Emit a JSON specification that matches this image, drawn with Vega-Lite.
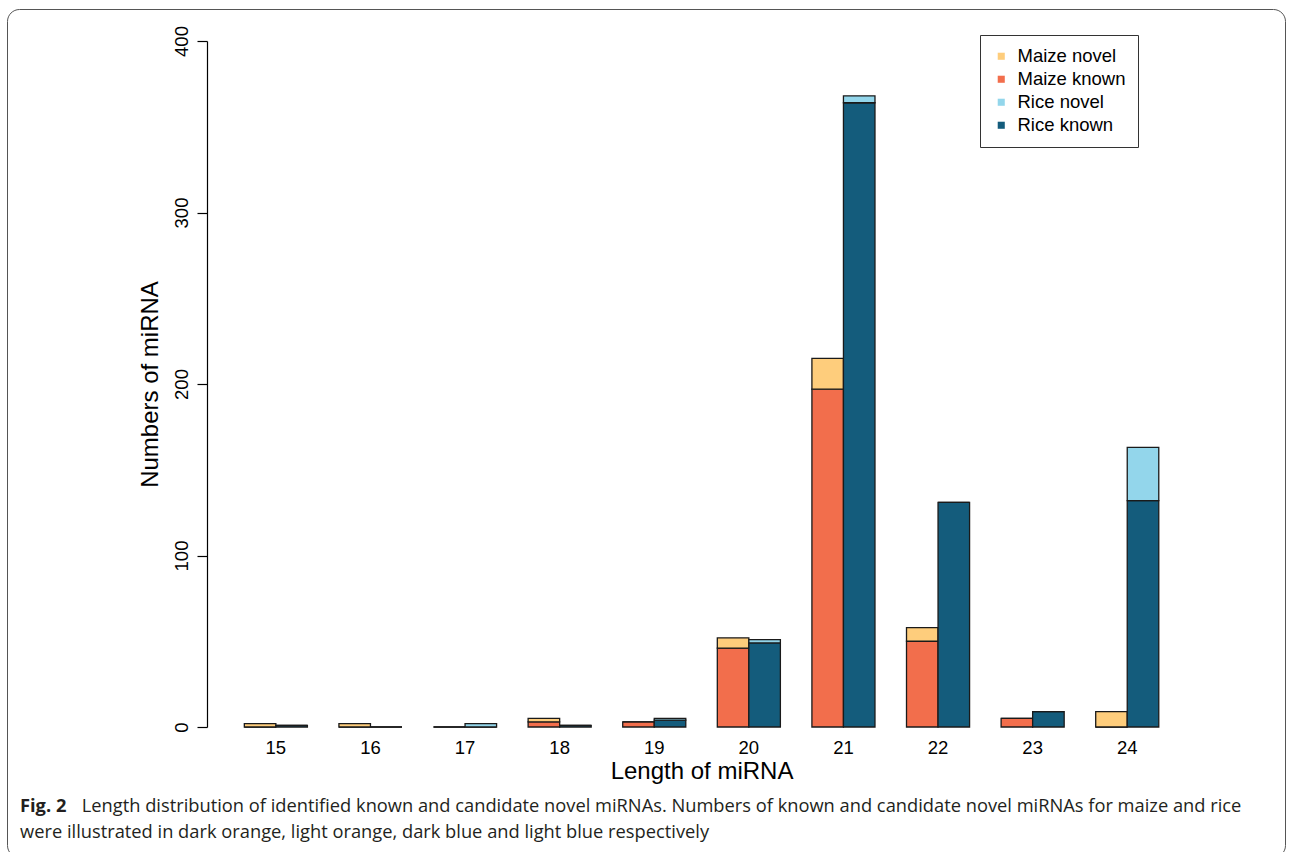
{
  "$schema": "https://vega.github.io/schema/vega-lite/v6.json",
  "autosize": {"type": "none"},
  "padding": {"left": 7, "top": 9, "right": 7, "bottom": -5},
  "width": 1278,
  "height": 848,
  "background": "white",
  "view": {"stroke": "#555555", "cornerRadius": 12, "fill": "white"},
  "title": {
    "text": "Fig. 2",
    "subtitle": [
      "\u200b\u00a0\u00a0\u00a0\u00a0\u00a0\u00a0\u00a0\u00a0\u00a0\u00a0\u00a0\u00a0\u00a0Length distribution of identified known and candidate novel miRNAs. Numbers of known and candidate novel miRNAs for maize and rice",
      "were illustrated in dark orange, light orange, dark blue and light blue respectively"
    ],
    "orient": "bottom",
    "anchor": "start",
    "frame": "group",
    "offset": -59,
    "dx": 13,
    "font": "Open Sans",
    "fontSize": 18.3,
    "fontWeight": "bold",
    "color": "#231f20",
    "subtitleFont": "Open Sans",
    "subtitleFontSize": 18.3,
    "subtitleFontWeight": "normal",
    "subtitleColor": "#231f20",
    "subtitlePadding": -18.8,
    "subtitleLineHeight": 26
  },
  "data": {
    "values": [
      {"length": "15", "species": "Maize", "type": "known", "category": "Maize known", "count": 0},
      {"length": "15", "species": "Maize", "type": "novel", "category": "Maize novel", "count": 2},
      {"length": "15", "species": "Rice", "type": "known", "category": "Rice known", "count": 1},
      {"length": "15", "species": "Rice", "type": "novel", "category": "Rice novel", "count": 0},
      {"length": "16", "species": "Maize", "type": "known", "category": "Maize known", "count": 0},
      {"length": "16", "species": "Maize", "type": "novel", "category": "Maize novel", "count": 2},
      {"length": "16", "species": "Rice", "type": "known", "category": "Rice known", "count": 0},
      {"length": "16", "species": "Rice", "type": "novel", "category": "Rice novel", "count": 0},
      {"length": "17", "species": "Maize", "type": "known", "category": "Maize known", "count": 0},
      {"length": "17", "species": "Maize", "type": "novel", "category": "Maize novel", "count": 0},
      {"length": "17", "species": "Rice", "type": "known", "category": "Rice known", "count": 0},
      {"length": "17", "species": "Rice", "type": "novel", "category": "Rice novel", "count": 2},
      {"length": "18", "species": "Maize", "type": "known", "category": "Maize known", "count": 3},
      {"length": "18", "species": "Maize", "type": "novel", "category": "Maize novel", "count": 2},
      {"length": "18", "species": "Rice", "type": "known", "category": "Rice known", "count": 1},
      {"length": "18", "species": "Rice", "type": "novel", "category": "Rice novel", "count": 0},
      {"length": "19", "species": "Maize", "type": "known", "category": "Maize known", "count": 3},
      {"length": "19", "species": "Maize", "type": "novel", "category": "Maize novel", "count": 0},
      {"length": "19", "species": "Rice", "type": "known", "category": "Rice known", "count": 4},
      {"length": "19", "species": "Rice", "type": "novel", "category": "Rice novel", "count": 1},
      {"length": "20", "species": "Maize", "type": "known", "category": "Maize known", "count": 46},
      {"length": "20", "species": "Maize", "type": "novel", "category": "Maize novel", "count": 6},
      {"length": "20", "species": "Rice", "type": "known", "category": "Rice known", "count": 49},
      {"length": "20", "species": "Rice", "type": "novel", "category": "Rice novel", "count": 2},
      {"length": "21", "species": "Maize", "type": "known", "category": "Maize known", "count": 197},
      {"length": "21", "species": "Maize", "type": "novel", "category": "Maize novel", "count": 18},
      {"length": "21", "species": "Rice", "type": "known", "category": "Rice known", "count": 364},
      {"length": "21", "species": "Rice", "type": "novel", "category": "Rice novel", "count": 4},
      {"length": "22", "species": "Maize", "type": "known", "category": "Maize known", "count": 50},
      {"length": "22", "species": "Maize", "type": "novel", "category": "Maize novel", "count": 8},
      {"length": "22", "species": "Rice", "type": "known", "category": "Rice known", "count": 131},
      {"length": "22", "species": "Rice", "type": "novel", "category": "Rice novel", "count": 0},
      {"length": "23", "species": "Maize", "type": "known", "category": "Maize known", "count": 5},
      {"length": "23", "species": "Maize", "type": "novel", "category": "Maize novel", "count": 0},
      {"length": "23", "species": "Rice", "type": "known", "category": "Rice known", "count": 9},
      {"length": "23", "species": "Rice", "type": "novel", "category": "Rice novel", "count": 0},
      {"length": "24", "species": "Maize", "type": "known", "category": "Maize known", "count": 0},
      {"length": "24", "species": "Maize", "type": "novel", "category": "Maize novel", "count": 9},
      {"length": "24", "species": "Rice", "type": "known", "category": "Rice known", "count": 132},
      {"length": "24", "species": "Rice", "type": "novel", "category": "Rice novel", "count": 31}
    ]
  },
  "mark": {"type": "bar", "stroke": "#1a1a1a", "strokeWidth": 1.3},
  "encoding": {
    "x": {
      "field": "length",
      "type": "nominal",
      "scale": {"type": "band", "range": [205.8, 1183.3], "paddingInner": 0.3333, "paddingOuter": 0.3333},
      "axis": {
        "orient": "bottom",
        "offset": -130,
        "domain": false,
        "ticks": false,
        "labelAngle": 0,
        "labelFont": "Liberation Sans",
        "labelFontSize": 18.5,
        "labelColor": "black",
        "labelPadding": 11,
        "labelBaseline": "top",
        "title": "Length of miRNA",
        "titleFont": "Liberation Sans",
        "titleFontSize": 24,
        "titleFontWeight": "normal",
        "titleColor": "black",
        "titlePadding": 3
      }
    },
    "xOffset": {
      "field": "species",
      "type": "nominal",
      "sort": ["Maize", "Rice"],
      "scale": {"paddingInner": 0, "paddingOuter": 0}
    },
    "y": {
      "field": "count",
      "type": "quantitative",
      "stack": "zero",
      "scale": {"domain": [0, 400], "range": [718, 32], "nice": false},
      "axis": {
        "orient": "left",
        "offset": -200,
        "values": [0, 100, 200, 300, 400],
        "grid": false,
        "domain": true,
        "domainColor": "black",
        "domainWidth": 1.2,
        "tickColor": "black",
        "tickWidth": 1.2,
        "tickSize": 10,
        "labelAngle": 270,
        "labelAlign": "center",
        "labelBaseline": "bottom",
        "labelFont": "Liberation Sans",
        "labelFontSize": 18.5,
        "labelColor": "black",
        "labelPadding": 6,
        "title": "Numbers of miRNA",
        "titleFont": "Liberation Sans",
        "titleFontSize": 24,
        "titleFontWeight": "normal",
        "titleColor": "black",
        "titlePadding": 10
      }
    },
    "color": {
      "field": "category",
      "type": "nominal",
      "scale": {
        "domain": ["Maize novel", "Maize known", "Rice novel", "Rice known"],
        "range": ["#fecd7c", "#f26e4c", "#93d6eb", "#145c7c"]
      },
      "legend": {
        "title": null,
        "orient": "none",
        "legendX": 973,
        "legendY": 26,
        "strokeColor": "#333333",
        "fillColor": "white",
        "padding": 12,
        "symbolType": "square",
        "symbolSize": 50,
        "symbolStrokeWidth": 0,
        "labelFont": "Liberation Sans",
        "labelFontSize": 18.5,
        "labelColor": "black",
        "labelOffset": 7,
        "rowPadding": 4
      }
    },
    "order": {"field": "type", "sort": "ascending"}
  }
}
